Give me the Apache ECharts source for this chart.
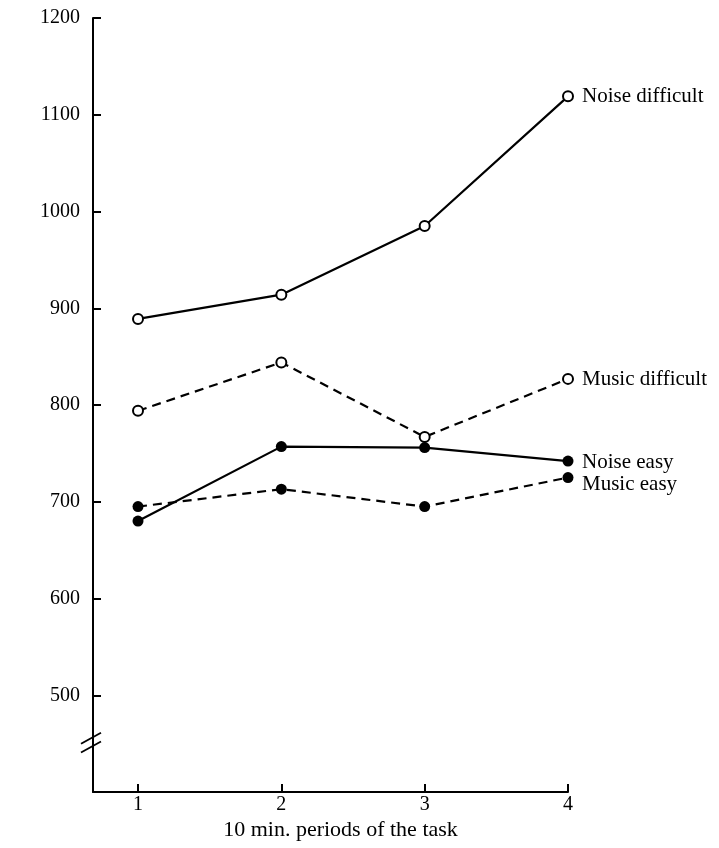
<!DOCTYPE html>
<html>
<head>
<meta charset="utf-8">
<script src="https://cdn.jsdelivr.net/npm/echarts@6/dist/echarts.min.js"></script>
<style>html,body{margin:0;padding:0;background:#fff;}#c{width:719px;height:848px;}</style>
</head>
<body>
<div id="c"></div>
<script>
const periods = [1, 2, 3, 4];
const yTicks = [500, 600, 700, 800, 900, 1000, 1100, 1200];
const noiseDifficult = [889, 914, 985, 1119];
const musicDifficult = [794, 844, 767, 827];
const noiseEasy = [680, 757, 756, 742];
const musicEasy = [695, 713, 695, 725];
const seriesNames = ['Noise difficult', 'Music difficult', 'Noise easy', 'Music easy'];

const FONT = '"Liberation Serif", "DejaVu Serif", serif';
const chart = echarts.init(document.getElementById('c'), null, {renderer: 'canvas'});

function mk(name, values, dashed, filled, dy) {
  return {
    name: name,
    type: 'line',
    data: periods.map((p, i) => [p, values[i]]),
    symbol: 'circle',
    symbolSize: filled ? 11 : 10,
    showSymbol: true,
    lineStyle: {color: '#000', width: 2.2, type: dashed ? [9, 6] : 'solid'},
    itemStyle: {color: filled ? '#000' : '#fff', borderColor: '#000', borderWidth: filled ? 0 : 2},
    z: 3,
    animation: false,
    endLabel: {
      show: true,
      formatter: name,
      color: '#000',
      fontFamily: FONT,
      fontSize: 21,
      distance: 14,
      offset: [0, dy]
    }
  };
}

chart.setOption({
  animation: false,
  backgroundColor: '#fff',
  grid: {left: 93, top: 18, right: 151, bottom: 56, containLabel: false, outerBoundsMode: 'none'},
  xAxis: {
    type: 'value',
    min: 0.686,
    max: 4,
    name: '10 min. periods of the task',
    nameLocation: 'middle',
    nameGap: 27,
    nameMoveOverlap: false,
    nameTextStyle: {color: '#000', fontFamily: FONT, fontSize: 22, padding: [0, 0, 0, 20]},
    axisLine: {show: true, onZero: false, lineStyle: {color: '#000', width: 2}},
    axisTick: {show: true, inside: true, length: 8, customValues: periods, lineStyle: {color: '#000', width: 2}},
    axisLabel: {show: true, customValues: periods, color: '#000', fontFamily: FONT, fontSize: 20, margin: 3},
    splitLine: {show: false}
  },
  yAxis: {
    type: 'value',
    min: 400,
    max: 1200,
    interval: 100,
    name: 'Detection latencies (msec.)',
    nameLocation: 'middle',
    nameGap: 72,
    nameRotate: 90,
    nameMoveOverlap: false,
    nameTextStyle: {color: '#000', fontFamily: FONT, fontSize: 21, padding: [0, 0, 30, 0]},
    axisLine: {show: true, onZero: false, lineStyle: {color: '#000', width: 2}},
    axisTick: {show: true, inside: true, length: 8, customValues: yTicks, lineStyle: {color: '#000', width: 2}},
    axisLabel: {show: true, customValues: yTicks, formatter: v => String(v), color: '#000', fontFamily: FONT, fontSize: 20, margin: 13},
    splitLine: {show: false}
  },
  series: [
    mk(seriesNames[0], noiseDifficult, false, false, 0),
    mk(seriesNames[1], musicDifficult, true, false, 1),
    mk(seriesNames[2], noiseEasy, false, true, 1),
    mk(seriesNames[3], musicEasy, true, true, 7)
  ]
});

// axis break marks drawn at the data position where the y-axis is broken
const breakVals = [447, 456];
const gfx = breakVals.map(v => {
  const p = chart.convertToPixel({gridIndex: 0}, [0.686, v]);
  return {
    type: 'line',
    shape: {x1: p[0] - 12, y1: p[1] + 6, x2: p[0] + 8, y2: p[1] - 5},
    style: {stroke: '#000', lineWidth: 1.8},
    z: 10
  };
});
chart.setOption({graphic: gfx});
</script>
</body>
</html>
